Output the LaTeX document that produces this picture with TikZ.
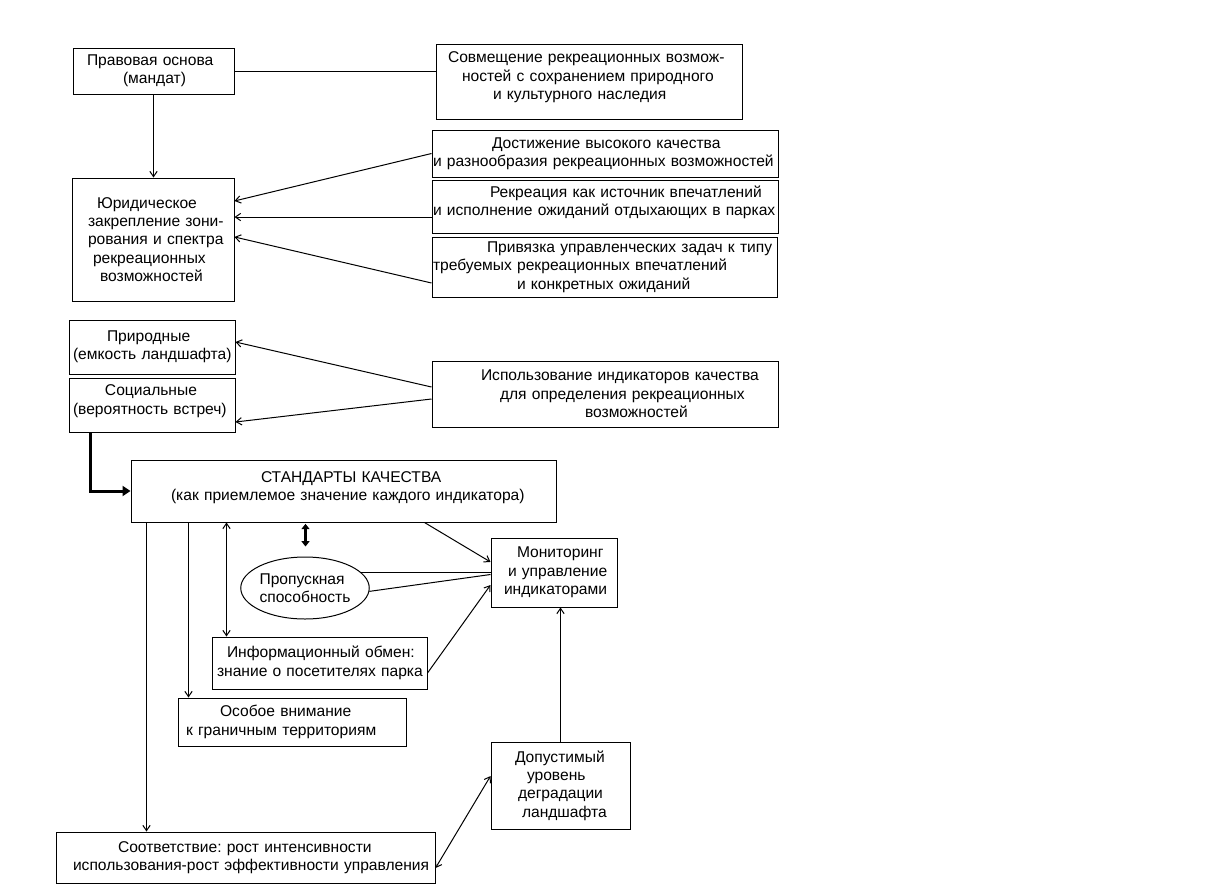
\documentclass[tikz,border=0pt]{standalone}
\usepackage{fontspec}
\setmainfont{Liberation Sans}
\usetikzlibrary{arrows.meta,shapes.geometric}
\newcommand\lpad[1]{\hspace*{\dimexpr #1pt*3/4\relax}}
\newcommand\vup[1]{\par\kern#1pt}
\frenchspacing
\begin{document}
\begin{tikzpicture}[x=0.75pt,y=-0.75pt,
  txt/.style={font=\fontsize{11.7}{13.8}\selectfont\frenchspacing},
  box/.style={draw, line width=0.75pt, inner sep=0pt, align=left, txt},
  bx/.style 2 args={box, text width=#1*0.75pt, minimum width=#1*0.75pt, minimum height=#2*0.75pt},
  ell/.style={draw, line width=0.75pt, ellipse, inner sep=0pt, align=left, txt,
    minimum width=114*0.75pt, minimum height=62*0.75pt},
  ln/.style={line width=0.75pt},
  arr/.style={ln, -{Straight Barb[length=4pt,width=5.5pt]}},
  dbl/.style={ln, {Straight Barb[length=4pt,width=5.5pt]}-{Straight Barb[length=4pt,width=5.5pt]}},
  thickarr/.style={line width=2.25pt, -{Triangle[length=6pt,width=7.5pt]}},
  thickdbl/.style={line width=2.25pt, {Triangle[length=4pt,width=6pt]}-{Triangle[length=4pt,width=6pt]}}]
\fill[white] (0,0) rectangle (1218,893);
\useasboundingbox (0,0) rectangle (1218,893);

% boxes
\node[bx={161}{46}] (pravo) at (153.5,71) {\lpad{14}\mbox{Правовая основа}\\\lpad{50}\mbox{(мандат)}};
\node[bx={306}{75}] (sovm) at (589,81.5) {\lpad{12}\mbox{Совмещение рекреационных возмож-}\\\lpad{26}\mbox{ностей с сохранением природного}\\\lpad{57}\mbox{и культурного наследия}\vup{6}};
\node[bx={346}{47}] (dost) at (605,153.5) {\lpad{60}\mbox{Достижение высокого качества}\\\lpad{1}\mbox{и разнообразия рекреационных возможностей}};
\node[bx={346}{53}] (rekr) at (605,206.5) {\lpad{58}\mbox{Рекреация как источник впечатлений}\\\lpad{1}\mbox{и исполнение ожиданий отдыхающих в парках}\vup{6}};
\node[bx={345}{60}] (priv) at (604.5,267) {\lpad{55}\mbox{Привязка управленческих задач к типу}\\\lpad{1}\mbox{требуемых рекреационных впечатлений}\\\lpad{85}\mbox{и конкретных ожиданий}};
\node[bx={162}{123}] (jur) at (153,239.5) {\lpad{25}\mbox{Юридическое}\\\lpad{16}\mbox{закрепление зони-}\\\lpad{16}\mbox{рования и спектра}\\\lpad{21}\mbox{рекреационных}\\\lpad{28}\mbox{возможностей}};
\node[bx={166}{54}] (prir) at (152,347) {\lpad{38}\mbox{Природные}\\\lpad{4}\mbox{(емкость ландшафта)}};
\node[bx={166}{54}] (soc) at (152,405) {\lpad{36}\mbox{Социальные}\\\lpad{4}\mbox{(вероятность встреч)}\vup{6}};
\node[bx={346}{66}] (ispol) at (605,394) {\lpad{49}\mbox{Использование индикаторов качества}\\\lpad{68}\mbox{для определения рекреационных}\\\lpad{153}\mbox{возможностей}};
\node[bx={425}{62}] (std) at (343.5,491) {\lpad{130}\mbox{СТАНДАРТЫ КАЧЕСТВА}\\\lpad{40}\mbox{(как приемлемое значение каждого индикатора)}\vup{5}};
\node[bx={126}{69}] (monit) at (554,572.5) {\lpad{26}\mbox{Мониторинг}\\\lpad{17}\mbox{и управление}\\\lpad{13}\mbox{индикаторами}};
\node[ell] (prop) at (305,588) {Пропускная\\способность};
\node[bx={215}{52}] (inform) at (319.5,663) {\lpad{15}\mbox{Информационный обмен:}\\\lpad{5}\mbox{знание о посетителях парка}};
\node[bx={228}{48}] (osob) at (292,722) {\lpad{42}\mbox{Особое внимание}\\\lpad{8}\mbox{к граничным территориям}};
\node[bx={139}{87}] (dop) at (560.5,785.5) {\lpad{24}\mbox{Допустимый}\\\lpad{36}\mbox{уровень}\\\lpad{27}\mbox{деградации}\\\lpad{31}\mbox{ландшафта}};
\node[bx={379}{51}] (sootv) at (245.5,857.5) {\lpad{62}\mbox{Соответствие: рост интенсивности}\\\lpad{17}\mbox{использования-рост эффективности управления}};

% connectors
\draw[ln] (pravo.east) -- (pravo.east -| sovm.west);
\draw[arr] (pravo.south) -- (pravo.south |- jur.north);
\draw[arr] (dost.west) -- ([yshift=28.9pt]jur.east);
\draw[arr] ([yshift=-7.9pt]rekr.west) coordinate (r1) -- (r1 -| jur.east);
\draw[arr] ([yshift=-12pt]priv.west) -- ([yshift=1.9pt]jur.east);
\draw[arr] ([yshift=5.25pt]ispol.west) -- ([yshift=3.75pt]prir.east);
\draw[arr] ([yshift=-3.75pt]ispol.west) -- ([yshift=-12.75pt]soc.east);
\draw[thickarr] ([xshift=16.5pt]soc.south west) |- (std.west);
\draw[arr] ([xshift=12pt]std.south west) coordinate (s1) -- (s1 |- sootv.north);
\draw[arr] ([xshift=43.5pt]std.south west) coordinate (s2) -- (s2 |- osob.north);
\draw[dbl] ([xshift=72pt]std.south west) coordinate (s3) -- (s3 |- inform.north);
\draw[thickdbl, shorten <=1pt, shorten >=7.5pt] ([xshift=131.25pt]std.south west) coordinate (s4) -- (s4 |- prop.north);
\draw[arr] ([xshift=220.5pt]std.south west) -- ([yshift=7.9pt]monit.west);
\draw[ln] (prop.16) -- (prop.16 -| monit.west);
\draw[ln] (prop.-3) -- ([yshift=-1.5pt]monit.west);
\draw[arr] ([yshift=-7.5pt]inform.east) -- ([yshift=-9.4pt]monit.west);
\draw[arr] (dop.north) -- (dop.north |- monit.south);
\draw[dbl] ([yshift=-7.9pt]sootv.east) -- ([yshift=7.1pt]dop.west);
\end{tikzpicture}
\end{document}
